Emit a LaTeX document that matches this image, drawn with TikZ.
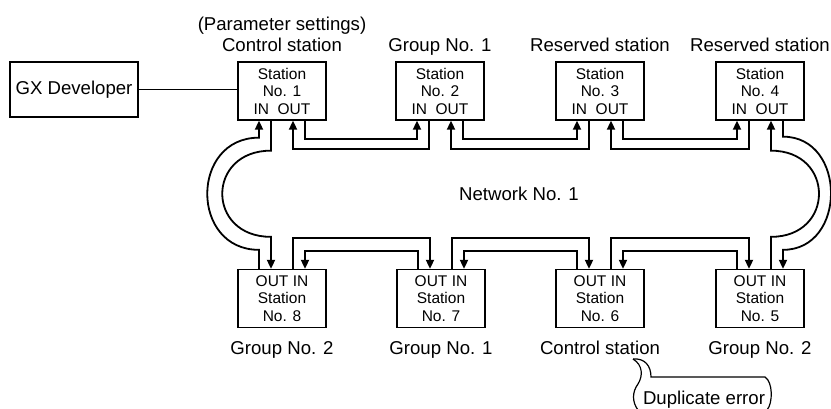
\documentclass[tikz,border=0pt]{standalone}
\usepackage{fontspec}
\setmainfont{Liberation Sans}
\usepackage{tikz}
\usetikzlibrary{arrows.meta, positioning}

\begin{document}
\begin{tikzpicture}[
    x=1pt,
    y=-1pt,
    font=\fontsize{18.6}{21}\selectfont,
    station/.style={draw, line width=1.3pt, align=center, minimum width=88pt, minimum height=58pt, inner sep=0pt, font=\fontsize{15.5}{17.5}\selectfont},
    host/.style={draw, line width=1.3pt, minimum width=128pt, minimum height=55pt, inner sep=0pt},
    tag/.style={anchor=base, inner sep=0pt},
    arrow/.style={-{Triangle[length=9pt,width=8pt]}, line width=1.8pt},
    wire/.style={line width=1.8pt},
    bubble/.style={line width=1.2pt}
]
\useasboundingbox (0,0) rectangle (831,408);
% stations, upper row
\node[station] (st1) at (282,91) {Station\\No. 1\\IN\ \ OUT};
\node[station] (st2) at (440,91) {Station\\No. 2\\IN\ \ OUT};
\node[station] (st3) at (600,91) {Station\\No. 3\\IN\ \ OUT};
\node[station] (st4) at (760,91) {Station\\No. 4\\IN\ \ OUT};
% stations, lower row
\node[station] (st8) at (282,298.5) {OUT IN\\Station\\No. 8};
\node[station] (st7) at (441,298.5) {OUT IN\\Station\\No. 7};
\node[station] (st6) at (600,298.5) {OUT IN\\Station\\No. 6};
\node[station] (st5) at (760,298.5) {OUT IN\\Station\\No. 5};
\node[host] (gx) at (74,89.5) {GX Developer};
% labels
\node[tag] (param) at (282,30) {(Parameter settings)};
\node[tag] (lab1) at (282,51) {Control station};
\node[tag] (lab2) at (440,51) {Group No. 1};
\node[tag] (lab3) at (600,51) {Reserved station};
\node[tag] (lab4) at (760,51) {Reserved station};
\node[tag] (lab8) at (282,354) {Group No. 2};
\node[tag] (lab7) at (441,354) {Group No. 1};
\node[tag] (lab6) at (600,354) {Control station};
\node[tag] (lab5) at (760,354) {Group No. 2};
\node[tag] (net) at (519,200) {Network No. 1};
\node[tag] (dup) at (704,404) {Duplicate error};
\coordinate (tip) at (633,359);
\draw[wire] (gx.east) -- (gx.east -| st1.west);
% upper links
\foreach \a/\b in {st1/st2,st2/st3,st3/st4} {
  \draw[arrow] ([xshift=23]\a.south) -- ++(0,18) -| ([xshift=-23]\b.south);
  \draw[arrow] ([xshift=-11]\b.south) -- ++(0,28) -| ([xshift=11]\a.south);
}
% lower links
\foreach \a/\b in {st8/st7,st7/st6,st6/st5} {
  \draw[arrow] ([xshift=11]\a.north) -- ++(0,-31) -| ([xshift=-11]\b.north);
  \draw[arrow] ([xshift=-23]\b.north) -- ++(0,-18) -| ([xshift=23]\a.north);
}
% loop-backs
\draw[arrow] ([xshift=-23]st8.north) -- ++(0,-19) .. controls +(-69,0) and +(-69,0) .. ([xshift=-23,yshift=-17]st1.south) -- ([xshift=-23]st1.south);
\draw[arrow] ([xshift=-11]st1.south) -- ++(0,30) .. controls +(-65,0) and +(-65,0) .. ([xshift=-11,yshift=32]st8.north) -- ([xshift=-11]st8.north);
\draw[arrow] ([xshift=23]st4.south) -- ++(0,16) .. controls +(64,0) and +(64,0) .. ([xshift=23,yshift=19]st5.north) -- ([xshift=23]st5.north);
\draw[arrow] ([xshift=11]st5.north) -- ++(0,-32) .. controls +(64,0) and +(64,0) .. ([xshift=11,yshift=-30]st4.south) -- ([xshift=11]st4.south);
% callout
\draw[bubble] (tip) .. controls (645,358) and (651,366) .. (651,377) -- (765,377) .. controls (773,382) and (773,403) .. (767,410);
\draw[bubble] (tip) .. controls (643,365) and (643,376) .. (638,384) .. controls (632,392) and (632,402) .. (638,410);
\end{tikzpicture}
\end{document}
